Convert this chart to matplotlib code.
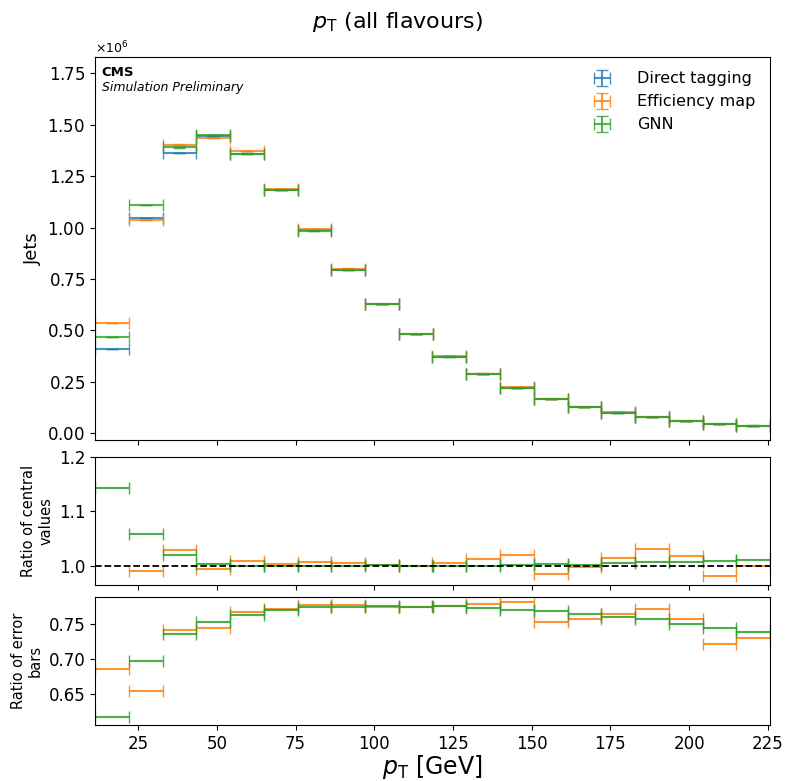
import matplotlib as mpl
mpl.use('Agg')
import matplotlib.pyplot as plt
import numpy as np

# 20 pT bins between ~11.3 and ~225.7 GeV
pt_lo = 11.3
pt_hi = 225.7
nbins = 20

# Direct tagging yields (x1e6)
direct = [0.408, 1.048, 1.363, 1.444, 1.360, 1.183, 0.987, 0.796, 0.627, 0.484,
          0.373, 0.287, 0.219, 0.167, 0.128, 0.100, 0.078, 0.060, 0.045, 0.037]
# rough stat. uncertainty of the direct tagging yields
direct_err = [640, 1020, 1170, 1200, 1170, 1090, 990, 890, 790, 700,
              610, 540, 470, 410, 360, 320, 280, 245, 210, 190]

# ratio of central values (method / direct tagging)
ratio_eff = [1.311, 0.991, 1.030, 0.995, 1.009, 1.004, 1.007, 1.006, 1.002, 1.000,
             1.006, 1.012, 1.020, 0.986, 0.998, 1.014, 1.032, 1.019, 0.982, 1.000]
ratio_gnn = [1.144, 1.059, 1.020, 1.004, 1.000, 0.999, 0.999, 0.999, 1.001, 1.000,
             1.000, 1.000, 1.001, 1.004, 1.002, 1.006, 1.007, 1.008, 1.009, 1.011]

# ratio of error bars (method / direct tagging)
errratio_eff = [0.686, 0.654, 0.742, 0.744, 0.768, 0.772, 0.778, 0.778, 0.774, 0.775,
                0.776, 0.779, 0.782, 0.753, 0.758, 0.764, 0.772, 0.757, 0.722, 0.730]
errratio_gnn = [0.617, 0.698, 0.736, 0.753, 0.763, 0.770, 0.774, 0.775, 0.776, 0.775,
                0.776, 0.773, 0.771, 0.769, 0.764, 0.761, 0.757, 0.750, 0.744, 0.739]

edges = np.linspace(pt_lo, pt_hi, nbins + 1)
centres = 0.5 * (edges[1:] + edges[:-1])
halfw = 0.5 * np.diff(edges)

direct = np.array(direct) * 1e6
direct_err = np.array(direct_err)
eff = direct * np.array(ratio_eff)
gnn = direct * np.array(ratio_gnn)
eff_err = direct_err * np.array(errratio_eff)
gnn_err = direct_err * np.array(errratio_gnn)

W, H = 795, 781
fig = plt.figure(figsize=(W/100, H/100), dpi=100)
left, width = 95/W, 675/W
ax = fig.add_axes([left, 1-440/H, width, 383/H])
rax1 = fig.add_axes([left, 1-585/H, width, 128/H], sharex=ax)
rax2 = fig.add_axes([left, 1-725/H, width, 128/H], sharex=ax)

kw = dict(fmt='none', capsize=4, alpha=0.8, lw=1.5)
ax.errorbar(centres, direct, xerr=halfw, yerr=direct_err, color='C0', label='Direct tagging', **kw)
ax.errorbar(centres, eff, xerr=halfw, yerr=eff_err, color='C1', label='Efficiency map', **kw)
ax.errorbar(centres, gnn, xerr=halfw, yerr=gnn_err, color='C2', label='GNN', **kw)
ax.set_ylim(-0.033e6, 1.83e6)
ax.set_ylabel('Jets', fontsize=13)
ax.legend(loc='upper right', frameon=False, fontsize=11.5, handletextpad=1.2)
ax.text(0.01, 0.976, 'CMS', transform=ax.transAxes, fontsize=9.5, fontweight='bold', va='top')
ax.text(0.01, 0.938, 'Simulation Preliminary', transform=ax.transAxes, fontsize=9, style='italic', va='top')
ax.ticklabel_format(axis='y', style='sci', scilimits=(0, 0), useMathText=True)
ax.tick_params(labelbottom=False, labelsize=12)
ax.yaxis.get_offset_text().set_fontsize(9)

rkw = dict(fmt='none', capsize=4, alpha=0.85, lw=1.5)
rax1.errorbar(centres, ratio_eff, xerr=halfw, color='C1', **rkw)
rax1.errorbar(centres, ratio_gnn, xerr=halfw, color='C2', **rkw)
rax1.axhline(1.0, color='k', ls='--', lw=1.3)
rax1.set_ylim(0.965, 1.2)
rax1.set_yticks([1.0, 1.1, 1.2])
rax1.set_ylabel('Ratio of central\nvalues', fontsize=10.5)
rax1.tick_params(labelbottom=False, labelsize=12)

rax2.errorbar(centres, errratio_eff, xerr=halfw, color='C1', **rkw)
rax2.errorbar(centres, errratio_gnn, xerr=halfw, color='C2', **rkw)
rax2.set_ylim(0.606, 0.789)
rax2.set_yticks([0.65, 0.70, 0.75])
rax2.set_ylabel('Ratio of error\nbars', fontsize=10.5)
rax2.tick_params(labelsize=12)
rax2.set_xlabel(r'$p_\mathrm{T}$ [GeV]', fontsize=17, labelpad=0)

rax2.set_xlim(pt_lo, pt_hi)
rax2.set_xticks([25, 50, 75, 100, 125, 150, 175, 200, 225])
fig.align_ylabels([ax, rax1, rax2])

fig.text(0.5, 1-22/H, r'$p_\mathrm{T}$ (all flavours)', ha='center', va='center', fontsize=16)

fig.savefig('out.png', dpi=100)
